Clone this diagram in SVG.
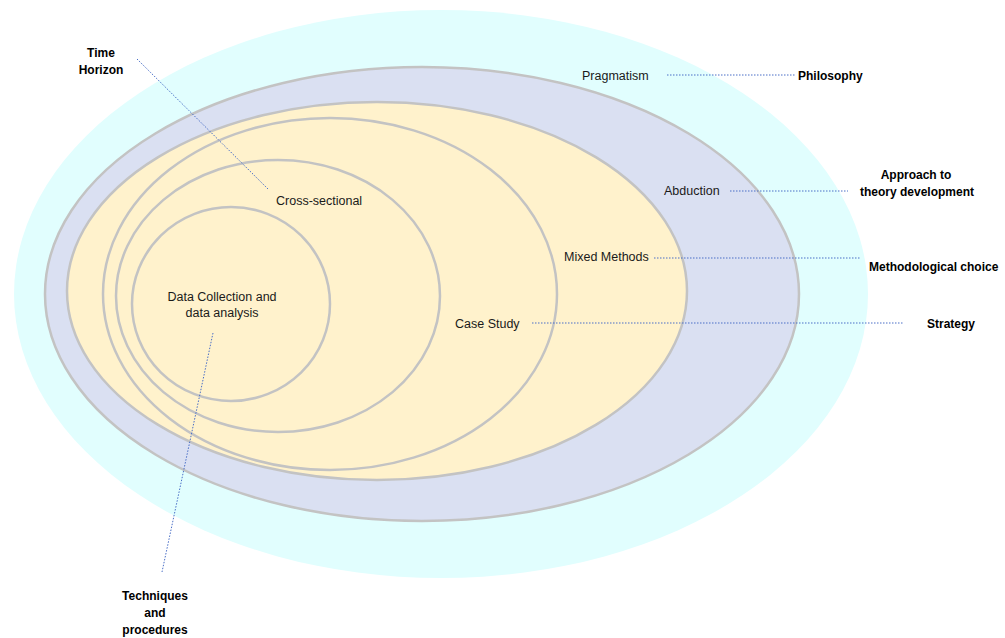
<svg xmlns="http://www.w3.org/2000/svg" width="1005" height="638" viewBox="0 0 1005 638">
  <style>
    .ring { stroke: #c3c3c3; stroke-width: 2.5; }
    .lbl { font-family: "Liberation Sans", Arial, sans-serif; font-size: 12.5px; fill: #1a1a1a; }
    .cat { font-family: "Liberation Sans", Arial, sans-serif; font-size: 12px; font-weight: bold; fill: #000; }
    .lead { stroke: #4a6fc7; stroke-width: 1; stroke-dasharray: 1.5 1.5; fill: none; }
  </style>
  <rect width="1005" height="638" fill="#ffffff"/>

  <!-- onion layers, outermost first -->
  <g id="layer-philosophy">
    <ellipse cx="441" cy="294" rx="427" ry="284" fill="#e1fefe"/>
  </g>
  <g id="layer-approach">
    <ellipse class="ring" cx="422" cy="294" rx="377" ry="227" fill="#dae0f2"/>
  </g>
  <g id="layer-choice">
    <ellipse class="ring" cx="377" cy="291" rx="310" ry="189" fill="#fff2cc"/>
  </g>
  <g id="layer-strategy">
    <ellipse class="ring" cx="330" cy="294" rx="227" ry="176" fill="#fff2cc"/>
  </g>
  <g id="layer-time">
    <ellipse class="ring" cx="278" cy="296" rx="162" ry="136" fill="#fff2cc"/>
  </g>
  <g id="layer-techniques">
    <ellipse class="ring" cx="231" cy="304" rx="99" ry="97" fill="#fff2cc"/>
  </g>

  <!-- dotted leader lines -->
  <g id="connectors">
    <line class="lead" x1="667" y1="75" x2="795" y2="75"/>
    <line class="lead" x1="730" y1="191" x2="848" y2="191"/>
    <line class="lead" x1="654" y1="258" x2="860" y2="258"/>
    <line class="lead" x1="532" y1="323" x2="903" y2="323"/>
    <line class="lead" x1="137" y1="59" x2="269" y2="190"/>
    <line class="lead" x1="213" y1="333" x2="162" y2="572"/>
  </g>

  <!-- layer labels -->
  <g id="label-pragmatism"><text class="lbl" x="582" y="80">Pragmatism</text></g>
  <g id="label-abduction"><text class="lbl" x="664" y="195">Abduction</text></g>
  <g id="label-mixed"><text class="lbl" x="564" y="261">Mixed Methods</text></g>
  <g id="label-case"><text class="lbl" x="455" y="328">Case Study</text></g>
  <g id="label-cross"><text class="lbl" x="276" y="205">Cross-sectional</text></g>
  <g id="label-data">
    <text class="lbl" x="222" y="301" text-anchor="middle">Data Collection and</text>
    <text class="lbl" x="222" y="317" text-anchor="middle">data analysis</text>
  </g>

  <!-- category names -->
  <g id="cat-philosophy"><text class="cat" x="798" y="80">Philosophy</text></g>
  <g id="cat-approach">
    <text class="cat" x="916" y="179" text-anchor="middle">Approach to</text>
    <text class="cat" x="917" y="196" text-anchor="middle">theory development</text>
  </g>
  <g id="cat-choice"><text class="cat" x="869" y="271">Methodological choice</text></g>
  <g id="cat-strategy"><text class="cat" x="927" y="328">Strategy</text></g>
  <g id="cat-time">
    <text class="cat" x="101" y="57" text-anchor="middle">Time</text>
    <text class="cat" x="101" y="74" text-anchor="middle">Horizon</text>
  </g>
  <g id="cat-techniques">
    <text class="cat" x="155" y="600" text-anchor="middle">Techniques</text>
    <text class="cat" x="155" y="617" text-anchor="middle">and</text>
    <text class="cat" x="155" y="634" text-anchor="middle">procedures</text>
  </g>
</svg>
